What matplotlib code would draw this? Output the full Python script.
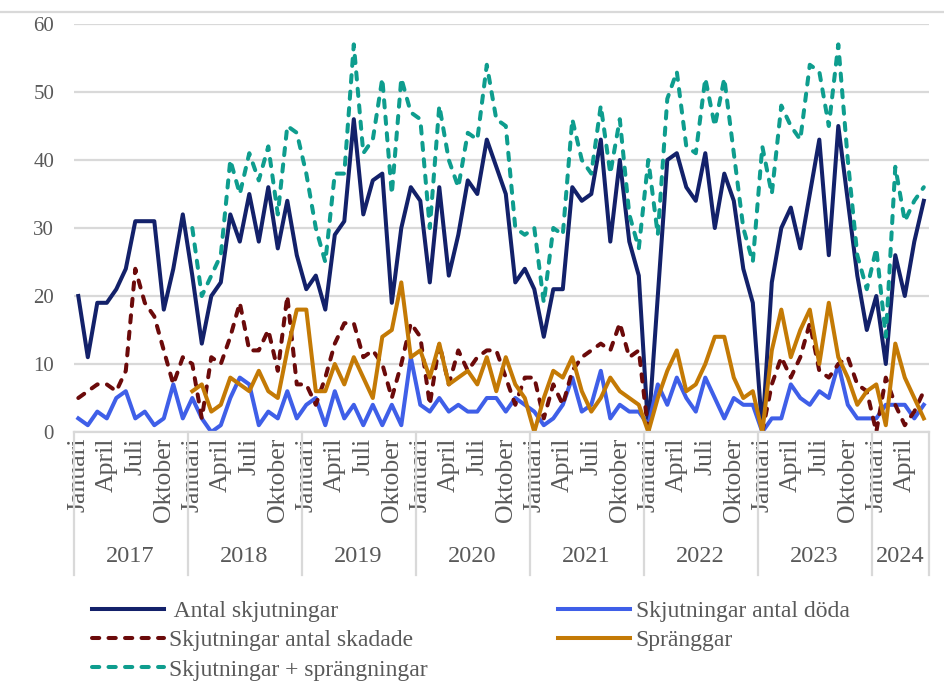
import numpy as np
import matplotlib
matplotlib.use('Agg')
import matplotlib.pyplot as plt
import matplotlib.transforms as mtransforms

nan = np.nan

years = ['2017', '2018', '2019', '2020', '2021', '2022', '2023', '2024']
months_per_year = [12, 12, 12, 12, 12, 12, 12, 6]
month_names = ['Januari', 'Februari', 'Mars', 'April', 'Maj', 'Juni', 'Juli',
               'Augusti', 'September', 'Oktober', 'November', 'December']
shown_months = ['Januari', 'April', 'Juli', 'Oktober']

antal_skjutningar = [
    20, 11, 19, 19, 21, 24, 31, 31, 31, 18, 24, 32,
    23, 13, 20, 22, 32, 28, 35, 28, 36, 27, 34, 26,
    21, 23, 18, 29, 31, 46, 32, 37, 38, 19, 30, 36,
    34, 22, 36, 23, 29, 37, 35, 43, 39, 35, 22, 24,
    21, 14, 21, 21, 36, 34, 35, 43, 28, 40, 28, 23,
    0, 20, 40, 41, 36, 34, 41, 30, 38, 34, 24, 19,
    0, 22, 30, 33, 27, 35, 43, 26, 45, 34, 23, 15,
    20, 10, 26, 20, 28, 34]

antal_doda = [
    2, 1, 3, 2, 5, 6, 2, 3, 1, 2, 7, 2,
    5, 2, 0, 1, 5, 8, 7, 1, 3, 2, 6, 2,
    4, 5, 1, 6, 2, 4, 1, 4, 1, 4, 1, 11,
    4, 3, 5, 3, 4, 3, 3, 5, 5, 3, 5, 4,
    3, 1, 2, 4, 8, 3, 4, 9, 2, 4, 3, 3,
    1, 7, 4, 8, 5, 3, 8, 5, 2, 5, 4, 4,
    0, 2, 2, 7, 5, 4, 6, 5, 10, 4, 2, 2,
    2, 4, 4, 4, 2, 4]

antal_skadade = [
    5, 6, 7, 7, 6, 9, 24, 19, 17, 12, 7, 11,
    10, 2, 11, 10, 14, 19, 12, 12, 15, 9, 20, 7,
    7, 4, 8, 13, 16, 16, 11, 12, 10, 5, 10, 16,
    14, 4, 13, 7, 12, 9, 11, 12, 12, 8, 4, 8,
    8, 2, 7, 4, 9, 11, 12, 13, 12, 16, 11, 12,
    0, nan, nan, nan, nan, nan, nan, nan, nan, nan, nan, nan,
    0, 7, 11, 8, 11, 16, 9, 8, 10, 11, 7, 6,
    0, 8, 4, 1, 3, 6]

spranggar = [
    nan, nan, nan, nan, nan, nan, nan, nan, nan, nan, nan, nan,
    6, 7, 3, 4, 8, 7, 6, 9, 6, 5, 12, 18,
    18, 6, 6, 10, 7, 11, 8, 5, 14, 15, 22, 11,
    12, 8, 13, 7, 8, 9, 7, 11, 6, 11, 7, 5,
    0, 5, 9, 8, 11, 6, 3, 5, 8, 6, 5, 4,
    0, 5, 9, 12, 6, 7, 10, 14, 14, 8, 5, 6,
    0, 12, 18, 11, 15, 18, 10, 19, 11, 8, 4, 6,
    7, 1, 13, 8, 5, 2]

skj_plus_spr = [
    nan, nan, nan, nan, nan, nan, nan, nan, nan, nan, nan, nan,
    30, 20, 23, 26, 40, 35, 41, 37, 42, 32, 45, 44,
    38, 30, 25, 38, 38, 57, 41, 43, 52, 35, 52, 47,
    46, 30, 48, 40, 36, 44, 43, 54, 46, 45, 30, 29,
    30, 19, 30, 29, 46, 40, 38, 48, 38, 46, 32, 27,
    40, 29, 49, 53, 42, 41, 52, 45, 52, 41, 30, 25,
    42, 35, 48, 45, 43, 54, 53, 45, 57, 40, 26, 21,
    27, 14, 39, 31, 34, 36]

series_names = ['Antal skjutningar', 'Skjutningar antal döda',
                'Skjutningar antal skadade', 'Spränggar',
                'Skjutningar + sprängningar']

# categories
cat_year = []
cat_month = []
for y, n in zip(years, months_per_year):
    for m in range(n):
        cat_year.append(y)
        cat_month.append(month_names[m])
x = np.arange(len(cat_month))

FONT = ['Liberation Serif', 'DejaVu Serif']
plt.rcParams['font.family'] = FONT
TXT = '#595959'
GRID = '#D9D9D9'
FS = 17

fig = plt.figure(figsize=(9.44, 6.83), dpi=100)
ax = fig.add_axes([73.55 / 944, 1 - 432 / 683, 855 / 944, 408 / 683])

ax.set_xlim(-0.5, len(x) - 0.5)
ax.set_ylim(0, 60)
ax.set_yticks(np.arange(0, 61, 10))
ax.yaxis.grid(True, color=GRID, linewidth=1.6)
ax.set_axisbelow(True)
for s in ['left', 'right', 'top']:
    ax.spines[s].set_visible(False)
ax.spines['bottom'].set_color(GRID)
ax.spines['bottom'].set_linewidth(1.6)
ax.tick_params(axis='y', length=0, labelsize=15, labelcolor=TXT, pad=14)

tick_pos = [i for i, m in enumerate(cat_month) if m in shown_months]
ax.set_xticks(tick_pos)
ax.set_xticklabels([cat_month[i] for i in tick_pos], rotation=90,
                   fontsize=18.5, color=TXT)
ax.tick_params(axis='x', length=0, pad=4)

lw = 2.9
dash = (1.8, 2.3)
h_navy, = ax.plot(x, antal_skjutningar, color='#13216A', lw=lw,
                  solid_joinstyle='round', label=' ' + series_names[0])
h_blue, = ax.plot(x, antal_doda, color='#3F5FE8', lw=lw,
                  solid_joinstyle='round', label=series_names[1])
h_red, = ax.plot(x, antal_skadade, color='#6B0A0A', lw=lw,
                 dashes=dash, dash_capstyle='round',
                 label=series_names[2])
h_orng, = ax.plot(x, spranggar, color='#C47A05', lw=lw,
                  solid_joinstyle='round', label=series_names[3])
h_teal, = ax.plot(x, skj_plus_spr, color='#0E9D8E', lw=lw,
                  dashes=dash, dash_capstyle='round',
                  label=series_names[4])

# multi-level category axis: year separators and labels
trans = mtransforms.blended_transform_factory(ax.transData, ax.transAxes)
start = 0
bounds = [-0.5]
for y, n in zip(years, months_per_year):
    bounds.append(start + n - 0.5)
    ax.text(start + (n - 1) / 2, -0.305, y, transform=trans, ha='center',
            va='center', fontsize=FS + 0.5, color=TXT)
    start += n
for b in bounds:
    ax.plot([b, b], [0, -0.35], transform=trans, color=GRID, lw=1.6,
            clip_on=False)

# chart border line at top
fig.add_artist(plt.Line2D([0, 1], [1 - 12 / 683, 1 - 12 / 683],
                          color=GRID, lw=1.6, transform=fig.transFigure))

handles = [h_navy, h_red, h_teal, h_blue, h_orng]
leg = fig.legend(handles=handles, labels=[h.get_label() for h in handles],
                 ncol=2, loc='upper left',
                 bbox_to_anchor=(75 / 944, 1 - 584 / 683),
                 frameon=False, fontsize=FS, handlelength=3.05,
                 handletextpad=0.25, columnspacing=5.5, labelspacing=0.33,
                 labelcolor=TXT, borderpad=0.2)

fig.savefig('out.png', dpi=100)
